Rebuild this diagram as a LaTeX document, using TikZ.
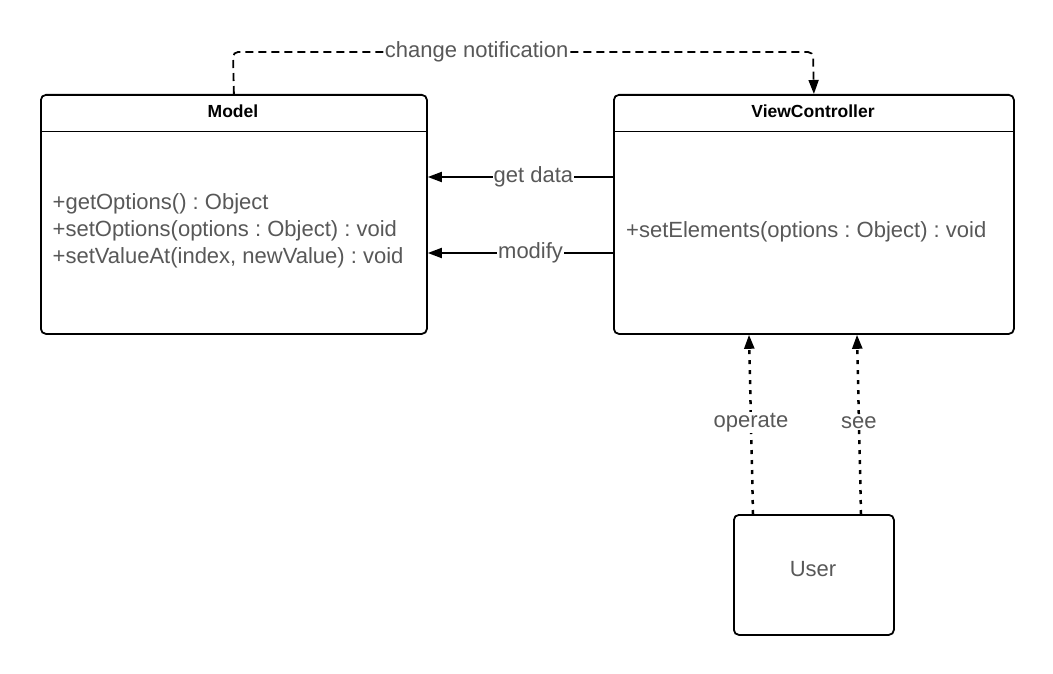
\documentclass[tikz,border=0pt]{standalone}
\usepackage{fontspec}
\setmainfont{Liberation Sans}
\usetikzlibrary{arrows.meta}
\definecolor{txtgray}{RGB}{88,88,88}
\frenchspacing
\tikzset{
  umlbox/.style={draw=black, line width=1.8pt, rounded corners=5pt, fill=white, inner sep=0pt},
  title/.style={font=\bfseries\fontsize{17.5}{20}\selectfont, text=black, inner sep=0pt},
  member/.style={font=\fontsize{22}{26.8}\selectfont, text=txtgray, inner sep=0pt, anchor=west, align=left},
  lbl/.style={font=\fontsize{22}{26}\selectfont, text=txtgray, fill=white, inner sep=1pt},
  conn/.style={line width=1.8pt, -{Triangle[length=14pt,width=10pt]}},
  dashconn/.style={line width=1.8pt, dash pattern=on 8pt off 5pt, -{Triangle[length=14pt,width=10pt]}, rounded corners=5pt},
  dotconn/.style={line width=2.5pt, dash pattern=on 4pt off 6pt, -{Triangle[length=14pt,width=10pt]}},
}
\begin{document}
\begin{tikzpicture}[x=1pt,y=-1pt]
\fill[white] (0,0) rectangle (1053,674);
\useasboundingbox (0,0) rectangle (1053,674);

% Model
\node[umlbox, minimum width=386pt, minimum height=239pt, anchor=north west] (model) at (40,94) {};
\draw[line width=1.8pt] (model.west |- 0,131.5) -- (model.east |- 0,131.5);
\node[title] (modeltitle) at (233,111) {Model};
\node[member] (modelmem) at (52.5,231) {+getOptions() : Object\\+setOptions(options : Object) : void\\+setValueAt(index, newValue) : void};

% ViewController
\node[umlbox, minimum width=400pt, minimum height=239pt, anchor=north west] (vc) at (613,94) {};
\draw[line width=1.8pt] (vc.west |- 0,131.5) -- (vc.east |- 0,131.5);
\node[title] (vctitle) at (813,111) {ViewController};
\node[member] (vcmem) at (626,231.5) {+setElements(options : Object) : void};

% User
\node[umlbox, minimum width=160pt, minimum height=120pt, anchor=north west] (user) at (733,514) {};
\node[font=\fontsize{22}{26}\selectfont, text=txtgray, inner sep=0pt] (usertext) at (813,569) {User};

% connectors
\draw[dashconn] (model.north) -- (233,52) -- node[lbl, pos=0.42] {change notification} (813,52) -- (vc.north);
\draw[conn] (vc.west |- 0,177) -- node[lbl, pos=0.43] {get data} (model.east |- 0,177);
\draw[conn] (vc.west |- 0,253) -- node[lbl, pos=0.445] {modify} (model.east |- 0,253);
\draw[dotconn] ([xshift=20pt]user.north west) -- node[lbl, pos=0.51] {operate} ([xshift=136pt]vc.south west);
\draw[dotconn] ([xshift=128pt]user.north west) -- node[lbl, pos=0.51] {see} ([xshift=244pt]vc.south west);
\end{tikzpicture}
\end{document}
